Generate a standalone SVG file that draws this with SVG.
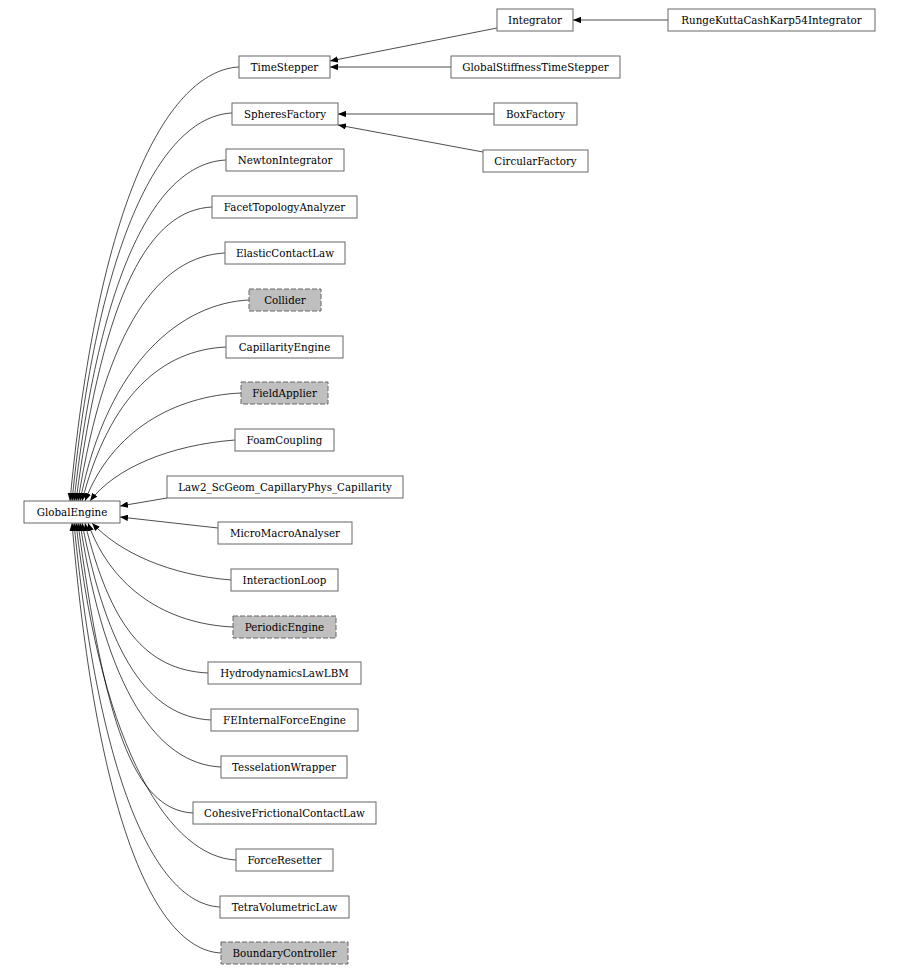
<svg xmlns="http://www.w3.org/2000/svg" width="900" height="976" viewBox="0 0 900 976">
<style>
.n rect{fill:#fff;stroke:#666;stroke-width:1}
.n.a rect{fill:#bfbfbf;stroke-dasharray:5,2}
.n text{font-family:"DejaVu Serif",serif;font-size:10.3px;text-anchor:middle;dominant-baseline:central;fill:#000}
#edges path{fill:none;stroke:#000;stroke-width:0.7;marker-end:url(#ah)}
</style>
<defs><marker id="ah" viewBox="0 0 10 8" refX="10" refY="4" markerWidth="8" markerHeight="6.4" markerUnits="userSpaceOnUse" orient="auto"><path d="M0,0 L10,4 L0,8 Z" fill="#000"/></marker></defs>
<rect width="900" height="976" fill="#fff"/>
<g id="edges">
<path d="M668,20 L573,20"/>
<path d="M497,28 L330,61"/>
<path d="M451,67 L330,67"/>
<path d="M494,114 L338,114"/>
<path d="M483,152 L338,125"/>
<path d="M239,67 C175,70 100,180 70,501"/>
<path d="M232,113 C168,116 100,220 72,501"/>
<path d="M226,160 C162,163 102,255 74,501"/>
<path d="M212,207 C150,210 104,290 76,501"/>
<path d="M225,253 C160,256 106,325 78,501"/>
<path d="M249,300 C183,303 108,360 80,501"/>
<path d="M226,347 C162,350 110,395 82,501"/>
<path d="M241,393 C175,396 112,430 85,501"/>
<path d="M235,440 C170,445 115,468 90,501"/>
<path d="M167,498 L120,506"/>
<path d="M218,528 L120,517"/>
<path d="M231,580 C170,575 120,553 92,523"/>
<path d="M233,627 C168,624 112,590 88,523"/>
<path d="M208,673 C145,670 110,625 85,523"/>
<path d="M211,720 C148,717 108,655 82,523"/>
<path d="M221,767 C157,764 106,690 80,523"/>
<path d="M193,813 C133,810 104,720 78,523"/>
<path d="M236,860 C172,857 102,755 76,523"/>
<path d="M220,907 C158,904 100,790 74,523"/>
<path d="M221,953 C158,950 98,830 72,523"/>
</g>
<g id="GlobalEngine" class="n"><rect x="24" y="501" width="96" height="22"/><text x="72" y="512">GlobalEngine</text></g>
<g id="Integrator" class="n"><rect x="497" y="9" width="76" height="22"/><text x="535" y="20">Integrator</text></g>
<g id="RungeKutta" class="n"><rect x="668" y="9" width="207" height="22"/><text x="771.5" y="20">RungeKuttaCashKarp54Integrator</text></g>
<g id="TimeStepper" class="n"><rect x="239" y="56" width="91" height="22"/><text x="284.5" y="67">TimeStepper</text></g>
<g id="GlobalStiffnessTimeStepper" class="n"><rect x="451" y="56" width="169" height="22"/><text x="535.5" y="67">GlobalStiffnessTimeStepper</text></g>
<g id="SpheresFactory" class="n"><rect x="232" y="103" width="106" height="22"/><text x="285" y="114">SpheresFactory</text></g>
<g id="BoxFactory" class="n"><rect x="494" y="103" width="83" height="22"/><text x="535.5" y="114">BoxFactory</text></g>
<g id="CircularFactory" class="n"><rect x="483" y="150" width="105" height="22"/><text x="535.5" y="161">CircularFactory</text></g>
<g id="NewtonIntegrator" class="n"><rect x="226" y="149" width="118" height="22"/><text x="285" y="160">NewtonIntegrator</text></g>
<g id="FacetTopologyAnalyzer" class="n"><rect x="212" y="196" width="145" height="22"/><text x="284.5" y="207">FacetTopologyAnalyzer</text></g>
<g id="ElasticContactLaw" class="n"><rect x="225" y="242" width="120" height="22"/><text x="285" y="253">ElasticContactLaw</text></g>
<g id="Collider" class="n a"><rect x="249" y="289" width="72" height="22"/><text x="285" y="300">Collider</text></g>
<g id="CapillarityEngine" class="n"><rect x="226" y="336" width="117" height="22"/><text x="284.5" y="347">CapillarityEngine</text></g>
<g id="FieldApplier" class="n a"><rect x="241" y="382" width="87" height="22"/><text x="284.5" y="393">FieldApplier</text></g>
<g id="FoamCoupling" class="n"><rect x="235" y="429" width="99" height="22"/><text x="284.5" y="440">FoamCoupling</text></g>
<g id="Law2" class="n"><rect x="167" y="476" width="236" height="22"/><text x="285" y="487">Law2_ScGeom_CapillaryPhys_Capillarity</text></g>
<g id="MicroMacroAnalyser" class="n"><rect x="218" y="522" width="134" height="22"/><text x="285" y="533">MicroMacroAnalyser</text></g>
<g id="InteractionLoop" class="n"><rect x="231" y="569" width="107" height="22"/><text x="284.5" y="580">InteractionLoop</text></g>
<g id="PeriodicEngine" class="n a"><rect x="233" y="616" width="103" height="22"/><text x="284.5" y="627">PeriodicEngine</text></g>
<g id="HydrodynamicsLawLBM" class="n"><rect x="208" y="662" width="153" height="22"/><text x="284.5" y="673">HydrodynamicsLawLBM</text></g>
<g id="FEInternalForceEngine" class="n"><rect x="211" y="709" width="147" height="22"/><text x="284.5" y="720">FEInternalForceEngine</text></g>
<g id="TesselationWrapper" class="n"><rect x="221" y="756" width="126" height="22"/><text x="284" y="767">TesselationWrapper</text></g>
<g id="CohesiveFrictionalContactLaw" class="n"><rect x="193" y="802" width="183" height="22"/><text x="284.5" y="813">CohesiveFrictionalContactLaw</text></g>
<g id="ForceResetter" class="n"><rect x="236" y="849" width="97" height="22"/><text x="284.5" y="860">ForceResetter</text></g>
<g id="TetraVolumetricLaw" class="n"><rect x="220" y="896" width="129" height="22"/><text x="284.5" y="907">TetraVolumetricLaw</text></g>
<g id="BoundaryController" class="n a"><rect x="221" y="942" width="127" height="22"/><text x="284.5" y="953">BoundaryController</text></g>
</svg>
